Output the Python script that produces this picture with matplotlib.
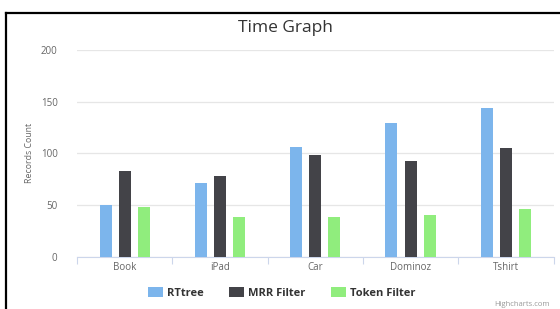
import numpy as np
import matplotlib.pyplot as plt
from matplotlib.lines import Line2D
from matplotlib.patches import Patch

categories = ["Book", "iPad", "Car", "Dominoz", "Tshirt"]
rttree = [50, 71, 106, 129, 144]
mrr_filter = [83, 78, 98, 93, 105]
token_filter = [48, 38, 38, 40, 46]
series_names = ["RTtree", "MRR Filter", "Token Filter"]
colors = ["#7cb5ec", "#434348", "#90ed7d"]
yticks = [0, 50, 100, 150, 200]

plt.rcParams['font.family'] = ['Open Sans', 'DejaVu Sans']

fig = plt.figure(figsize=(5.6, 3.09), dpi=100)
ax = fig.add_axes([77/560, 1-256.7/309, (553.5-77)/560, (256.7-50)/309])

x = np.arange(len(categories))
w = 0.126
for i, (vals, c) in enumerate(zip([rttree, mrr_filter, token_filter], colors)):
    ax.bar(x + (i-1)*0.2, vals, width=w, color=c, zorder=3)

ax.set_xlim(-0.5, len(categories)-0.5)
ax.set_ylim(0, 200)
ax.set_yticks(yticks)
ax.set_yticklabels([str(v) for v in yticks], color="#666666", fontsize=7)
ax.yaxis.grid(True, color="#e6e6e6", lw=0.9, zorder=0)
ax.tick_params(axis='y', length=0, pad=14)

ax.set_xticks(x)
ax.set_xticklabels(categories, color="#666666", fontsize=7)
ax.tick_params(axis='x', length=0, pad=4)
ax.set_xticks(np.arange(-0.5, len(categories)), minor=True)
ax.tick_params(axis='x', which='minor', length=5, color="#ccd6eb", width=0.8)

for s in ["top", "right", "left"]:
    ax.spines[s].set_visible(False)
ax.spines["bottom"].set_color("#ccd6eb")
ax.spines["bottom"].set_linewidth(0.8)

ax.set_ylabel("Records Count", color="#666666", fontsize=6.3, labelpad=5)

fig.text(285/560, 1-28/309, "Time Graph", ha="center", va="center",
         fontsize=12.5, color="#333333")

handles = [Patch(facecolor=c, edgecolor="none") for c in colors]
fig.legend(handles, series_names, loc="center", bbox_to_anchor=(281.5/560, 1-293/309),
           ncol=3, frameon=False, handlelength=1.35, handleheight=0.9,
           handletextpad=0.36, columnspacing=2.3, labelcolor="#333333",
           prop={'weight': 'bold', 'size': 8})

fig.text(550/560, 1-305/309, "Highcharts.com", ha="right", va="center",
         fontsize=5.5, color="#999999")

# black frame (top and left edges)
fig.add_artist(Line2D([6/560, 6/560], [0, 1-12.5/309], color="black", lw=1.6,
                      transform=fig.transFigure))
fig.add_artist(Line2D([6/560, 1], [1-12.5/309, 1-12.5/309], color="black", lw=1.6,
                      transform=fig.transFigure))

fig.savefig("out.png", dpi=100)
